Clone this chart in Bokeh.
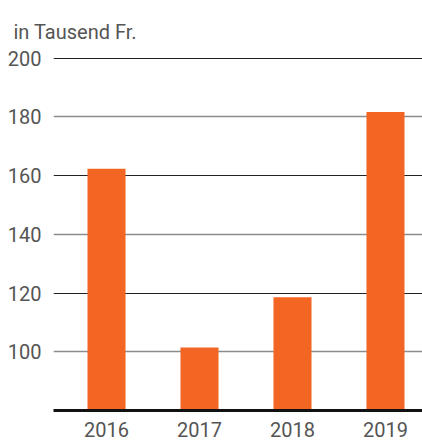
from bokeh.plotting import figure
from bokeh.models import FixedTicker, Grid, ColumnDataSource, Range1d
from bokeh.embed import file_html
from bokeh.resources import INLINE

years = ["2016", "2017", "2018", "2019"]
values = [162.4, 101.5, 118.6, 181.7]
dark_ticks = [120, 160, 200]
gray_ticks = [100, 140, 180]
y_ticks = [100, 120, 140, 160, 180, 200]
unit_label = "in Tausend Fr."

FONT = "Roboto"
TXT = "#555555"

xpos = list(range(len(years)))
src = ColumnDataSource(dict(x=xpos, top=values, year=years))

p = figure(width=422, height=441, output_backend="svg", toolbar_location=None,
           x_range=Range1d(-0.570, 3.398), y_range=Range1d(80, 200.6),
           min_border_left=53, min_border_right=0, min_border_top=56, min_border_bottom=31)
p.outline_line_color = None
p.background_fill_color = "white"
p.border_fill_color = "white"

p.title.text = unit_label
p.title.align = "left"
p.title.vertical_align = "top"
p.title.text_font = FONT
p.title.text_font_size = "20px"
p.title.text_font_style = "normal"
p.title.text_color = TXT
p.title.offset = -40
p.title.standoff = 21

p.xgrid.visible = False
p.ygrid.visible = False
g1 = Grid(dimension=1, ticker=FixedTicker(ticks=dark_ticks), grid_line_color="#222222", grid_line_width=1.2)
g2 = Grid(dimension=1, ticker=FixedTicker(ticks=gray_ticks), grid_line_color="#8c8c8c", grid_line_width=1.5)
p.add_layout(g1)
p.add_layout(g2)

p.vbar(x="x", top="top", bottom=80, width=0.409, source=src, color="#f26522", line_color=None)

ya = p.yaxis[0]
ya.ticker = FixedTicker(ticks=y_ticks)
ya.axis_line_color = None
ya.major_tick_line_color = None
ya.minor_tick_line_color = None
ya.major_label_standoff = 6
ya.major_label_text_font = FONT
ya.major_label_text_font_size = "20px"
ya.major_label_text_color = TXT

xa = p.xaxis[0]
xa.ticker = FixedTicker(ticks=xpos)
xa.major_label_overrides = {i: y for i, y in zip(xpos, years)}
xa.axis_line_color = "#111111"
xa.axis_line_width = 3
xa.major_tick_line_color = None
xa.minor_tick_line_color = None
xa.major_label_standoff = 5
xa.major_label_text_font = FONT
xa.major_label_text_font_size = "20px"
xa.major_label_text_color = TXT

open("out.html", "w").write(file_html(p, INLINE))
